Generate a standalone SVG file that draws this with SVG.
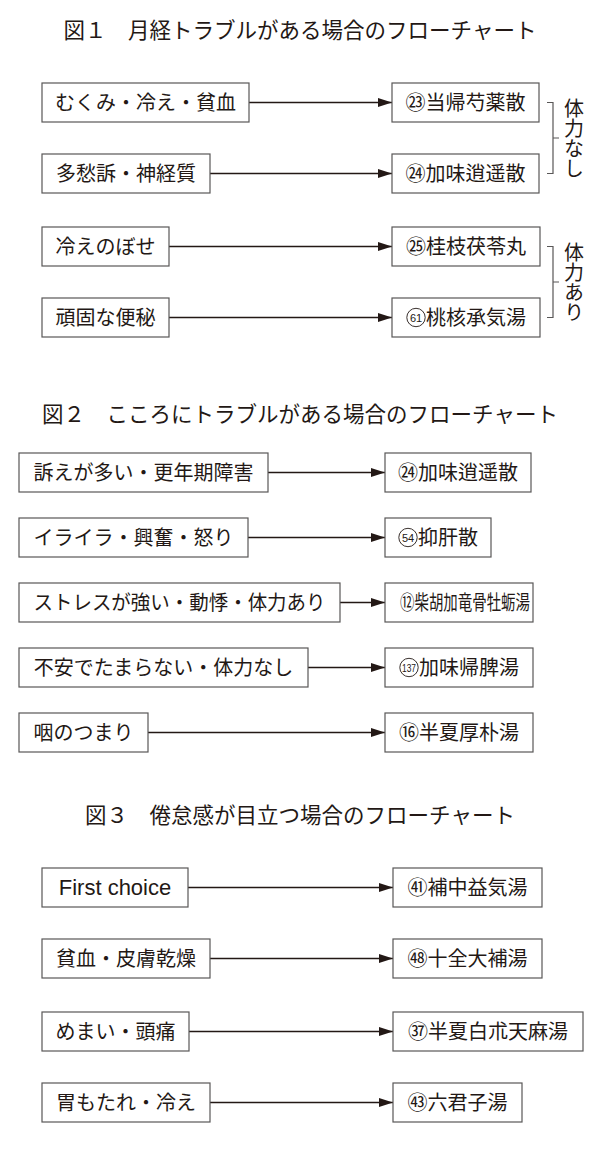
<svg xmlns="http://www.w3.org/2000/svg" width="600" height="1156" viewBox="0 0 600 1156">
<defs>
<marker id="ah" markerUnits="userSpaceOnUse" markerWidth="14" markerHeight="9" refX="14" refY="4.5" orient="auto">
<path d="M0,0 L14,4.5 L0,9 z" fill="#231815"/>
</marker>
<style>
.box{fill:#fff;stroke:#595757;stroke-width:1.2}
.t{font-family:"Noto Sans CJK JP","Noto Sans CJK SC",sans-serif;font-size:20px;fill:#231815}
.m{text-anchor:middle}
.v{writing-mode:vertical-rl;text-orientation:upright;text-anchor:middle}
.title{font-size:21.5px;text-anchor:middle}
.lat{font-family:"Liberation Sans",Arial,sans-serif;font-size:22px;fill:#231815;text-anchor:middle}
.num{font-family:"Liberation Sans",Arial,sans-serif;font-size:11px;fill:#231815;text-anchor:middle}
.circ{fill:none;stroke:#231815;stroke-width:0.9}
.conn line{stroke:#231815;stroke-width:1.4;marker-end:url(#ah)}
.br{fill:none;stroke:#595757;stroke-width:1.2}
</style>
</defs>
<rect width="600" height="1156" fill="#fff"/>

<text id="title1" class="t title" x="300" y="38">図１　月経トラブルがある場合のフローチャート</text>
<text id="title2" class="t title" x="300" y="422">図２　こころにトラブルがある場合のフローチャート</text>
<text id="title3" class="t title" x="300" y="823">図３　倦怠感が目立つ場合のフローチャート</text>

<g id="connectors" class="conn">
<line x1="249" y1="102.5" x2="392" y2="102.5"/>
<line x1="210" y1="173.5" x2="392" y2="173.5"/>
<line x1="169" y1="246.5" x2="392" y2="246.5"/>
<line x1="169" y1="317.5" x2="392" y2="317.5"/>
<line x1="268" y1="472.5" x2="385" y2="472.5"/>
<line x1="248" y1="537.5" x2="385" y2="537.5"/>
<line x1="340" y1="602.5" x2="385" y2="602.5"/>
<line x1="308" y1="667.5" x2="385" y2="667.5"/>
<line x1="148" y1="732.5" x2="385" y2="732.5"/>
<line x1="188" y1="887.5" x2="393" y2="887.5"/>
<line x1="210" y1="958.5" x2="393" y2="958.5"/>
<line x1="189" y1="1031.5" x2="393" y2="1031.5"/>
<line x1="210" y1="1102.5" x2="393" y2="1102.5"/>
</g>

<g id="bracket1">
<path class="br" d="M547,102.5 H553 V173.5 H547 M553,138 H559"/>
<text class="t v" x="574" y="138">体力なし</text>
</g>
<g id="bracket2">
<path class="br" d="M547,246.5 H553 V317.5 H547 M553,282 H559"/>
<text class="t v" x="574" y="282">体力あり</text>
</g>

<!-- Figure 1 -->
<g id="f1-l1"><rect class="box" x="42" y="83" width="207" height="39"/><text class="t m" x="145.5" y="110">むくみ・冷え・貧血</text></g>
<g id="f1-l2"><rect class="box" x="42" y="154" width="168" height="39"/><text class="t m" x="126" y="181">多愁訴・神経質</text></g>
<g id="f1-l3"><rect class="box" x="42" y="227" width="127" height="39"/><text class="t m" x="105.5" y="254">冷えのぼせ</text></g>
<g id="f1-l4"><rect class="box" x="42" y="298" width="127" height="39"/><text class="t m" x="105.5" y="325">頑固な便秘</text></g>
<g id="f1-r1"><rect class="box" x="392" y="83" width="147" height="39"/><text class="t m" x="465.5" y="110">㉓当帰芍薬散</text></g>
<g id="f1-r2"><rect class="box" x="392" y="154" width="147" height="39"/><text class="t m" x="465.5" y="181">㉔加味逍遥散</text></g>
<g id="f1-r3"><rect class="box" x="392" y="227" width="148" height="39"/><text class="t m" x="466" y="254">㉕桂枝茯苓丸</text></g>
<g id="f1-r4"><rect class="box" x="392" y="298" width="148" height="39"/><circle class="circ" cx="416" cy="317.5" r="9.2"/><text class="num" x="416" y="321.5">61</text><text class="t" x="426" y="325">桃核承気湯</text></g>

<!-- Figure 2 -->
<g id="f2-l1"><rect class="box" x="19" y="453" width="249" height="39"/><text class="t m" x="143.5" y="480">訴えが多い・更年期障害</text></g>
<g id="f2-l2"><rect class="box" x="19" y="518" width="229" height="39"/><text class="t m" x="133.5" y="545">イライラ・興奮・怒り</text></g>
<g id="f2-l3"><rect class="box" x="19" y="583" width="321" height="39"/><text class="t" x="33.5" y="610" textLength="292" lengthAdjust="spacingAndGlyphs">ストレスが強い・動悸・体力あり</text></g>
<g id="f2-l4"><rect class="box" x="19" y="648" width="289" height="39"/><text class="t m" x="163.5" y="675">不安でたまらない・体力なし</text></g>
<g id="f2-l5"><rect class="box" x="19" y="713" width="129" height="39"/><text class="t m" x="83.5" y="740">咽のつまり</text></g>
<g id="f2-r1"><rect class="box" x="385" y="453" width="146" height="39"/><text class="t m" x="458" y="480">㉔加味逍遥散</text></g>
<g id="f2-r2"><rect class="box" x="385" y="518" width="106" height="39"/><circle class="circ" cx="408" cy="537.5" r="9.2"/><text class="num" x="408" y="541.5">54</text><text class="t" x="418" y="545">抑肝散</text></g>
<g id="f2-r3"><rect class="box" x="385" y="583" width="148" height="39"/><text class="t" x="400" y="610" textLength="130" lengthAdjust="spacingAndGlyphs">⑫柴胡加竜骨牡蛎湯</text></g>
<g id="f2-r4"><rect class="box" x="385" y="648" width="148" height="39"/><circle class="circ" cx="409" cy="667.5" r="9.2"/><text class="num" x="409" y="671.5" textLength="14" lengthAdjust="spacingAndGlyphs">137</text><text class="t" x="419" y="675">加味帰脾湯</text></g>
<g id="f2-r5"><rect class="box" x="385" y="713" width="148" height="39"/><text class="t m" x="459" y="740">⑯半夏厚朴湯</text></g>

<!-- Figure 3 -->
<g id="f3-l1"><rect class="box" x="42" y="868" width="146" height="39"/><text class="lat" x="115" y="895">First choice</text></g>
<g id="f3-l2"><rect class="box" x="42" y="939" width="168" height="39"/><text class="t m" x="126" y="966">貧血・皮膚乾燥</text></g>
<g id="f3-l3"><rect class="box" x="42" y="1012" width="147" height="39"/><text class="t m" x="115.5" y="1039">めまい・頭痛</text></g>
<g id="f3-l4"><rect class="box" x="42" y="1083" width="168" height="39"/><text class="t m" x="126" y="1110">胃もたれ・冷え</text></g>
<g id="f3-r1"><rect class="box" x="393" y="868" width="149" height="39"/><text class="t m" x="467.5" y="895">㊶補中益気湯</text></g>
<g id="f3-r2"><rect class="box" x="393" y="939" width="149" height="39"/><text class="t m" x="467.5" y="966">㊽十全大補湯</text></g>
<g id="f3-r3"><rect class="box" x="393" y="1012" width="190" height="39"/><text class="t" x="408" y="1039" textLength="160" lengthAdjust="spacingAndGlyphs">㊲半夏白朮天麻湯</text></g>
<g id="f3-r4"><rect class="box" x="393" y="1083" width="129" height="39"/><text class="t m" x="457.5" y="1110">㊸六君子湯</text></g>
</svg>
